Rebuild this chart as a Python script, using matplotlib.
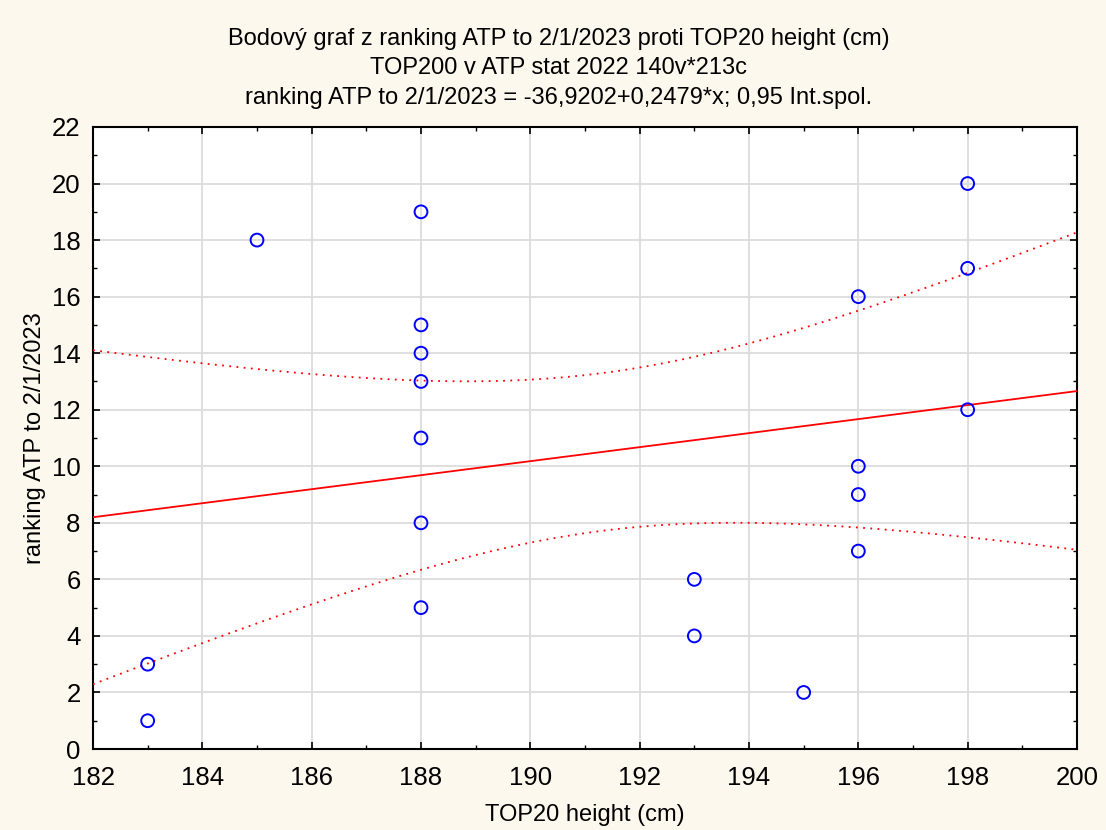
import numpy as np
import matplotlib.pyplot as plt

plt.rcParams['font.family'] = ['Liberation Sans', 'DejaVu Sans']

# TOP20 height (cm) vs ATP ranking
height = [183, 183, 185, 188, 188, 188, 188, 188, 188, 188,
          193, 193, 195, 196, 196, 196, 196, 198, 198, 198]
ranking = [3, 1, 18, 19, 15, 14, 13, 11, 8, 5,
           6, 4, 2, 16, 10, 9, 7, 20, 17, 12]

intercept = -36.9202
slope = 0.2479
t_crit = 2.1009  # t(0.975, df=18)

x = np.array(height, dtype=float)
y = np.array(ranking, dtype=float)
n = len(x)
resid = y - (intercept + slope * x)
s = np.sqrt(np.sum(resid ** 2) / (n - 2))
sxx = np.sum((x - x.mean()) ** 2)

xs = np.linspace(182, 200, 300)
fit = intercept + slope * xs
half = t_crit * s * np.sqrt(1 / n + (xs - x.mean()) ** 2 / sxx)

fig = plt.figure(figsize=(11.06, 8.30), dpi=100, facecolor='#fdf8ee')
ax = fig.add_axes([93 / 1106, 1 - 749 / 830, (1077 - 93) / 1106, (749 - 127) / 830])
ax.set_facecolor('white')

ax.plot(xs, fit, color='red', lw=1.3, zorder=3)
ax.plot(xs, fit + half, color='red', lw=1.3, ls=(0, (1, 3)), zorder=3)
ax.plot(xs, fit - half, color='red', lw=1.3, ls=(0, (1, 3)), zorder=3)
ax.scatter(x, y, s=85, facecolors='none', edgecolors='blue', linewidths=1.4, zorder=4,
           clip_on=False)

ax.set_xlim(182, 200)
ax.set_ylim(0, 22)
ax.set_xticks(np.arange(182, 201, 2))
ax.set_yticks(np.arange(0, 23, 2))
ax.set_xticks(np.arange(183, 200, 2), minor=True)
ax.set_yticks(np.arange(1, 22, 2), minor=True)
ax.grid(True, which='major', color='#dcdcdc', lw=1.3)
ax.set_axisbelow(True)
ax.tick_params(which='both', direction='in', top=True, right=True, labelsize=18.5)
ax.tick_params(axis='x', pad=12)
ax.tick_params(axis='y', pad=9)
ax.tick_params(which='major', length=5, width=1.2)
ax.tick_params(which='minor', length=3, width=1.0)
for sp in ax.spines.values():
    sp.set_linewidth(1.5)

ax.set_xlabel('TOP20 height (cm)', fontsize=17, labelpad=10)
ax.set_ylabel('ranking ATP to 2/1/2023', fontsize=17, labelpad=4)

fig.text(0.505, 1 - 39 / 830, 'Bodový graf z ranking ATP to 2/1/2023 proti TOP20 height (cm)',
         ha='center', va='center', fontsize=17)
fig.text(0.505, 1 - 68 / 830, 'TOP200 v ATP stat 2022 140v*213c',
         ha='center', va='center', fontsize=17)
fig.text(0.505, 1 - 98 / 830, 'ranking ATP to 2/1/2023 = -36,9202+0,2479*x; 0,95 Int.spol.',
         ha='center', va='center', fontsize=17)

fig.savefig('out.png', dpi=100, facecolor=fig.get_facecolor())
